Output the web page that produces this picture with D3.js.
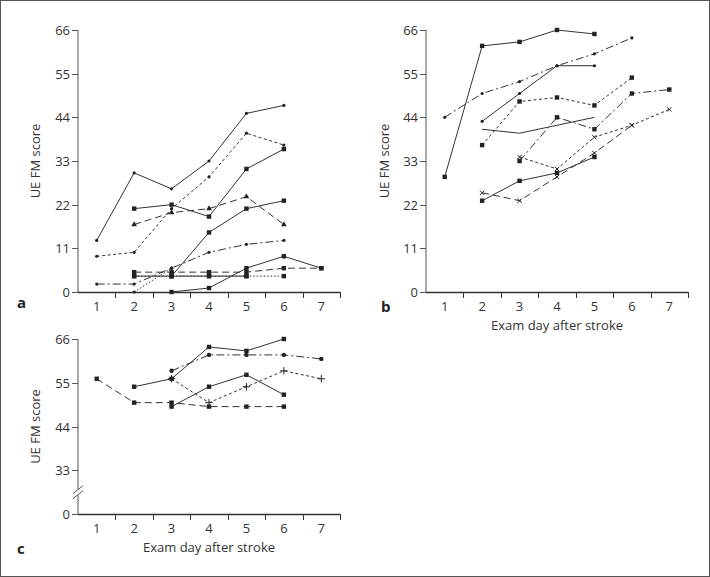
<!DOCTYPE html>
<html><head><meta charset="utf-8">
<script src="https://cdn.jsdelivr.net/npm/d3@7"></script>
<style>body{margin:0;background:#fff}svg{display:block}text{font-family:"Open Sans","Noto Sans",sans-serif;fill:#333}</style>
</head><body><svg id="c" width="710" height="577"></svg>
<script>
const days = [1,2,3,4,5,6,7];
const yTicksAB = [0,11,22,33,44,55,66];
const yTicksC = [0,33,44,55,66];
const yLabel = "UE FM score";
const xLabel = "Exam day after stroke";

// Panel a series (index = day-1), null = no exam
const a1 = [13,30,26,33,45,47,null];
const a2 = [9,10,21,29,40,37,null];
const a3 = [null,21,22,19,31,36,null];
const a4 = [null,null,4,15,21,23,null];
const a5 = [null,4,4,4,4,null,null];
const a6 = [null,4,4,4,4,4,null];
const a7 = [null,5,5,5,5,6,6];
const a8 = [null,null,0,1,6,9,6];
const a9 = [2,2,6,10,12,13,null];
const a10 = [null,17,20,21,24,17,null];
const a11 = [null,0,6,null,null,null,null];

// Panel b series
const b1 = [29,62,63,66,65,null,null];
const b2 = [44,50,53,57,60,64,null];
const b3 = [null,43,50,57,57,null,null];
const b4 = [null,37,48,49,47,54,null];
const b5 = [null,41,40,42,44,null,null];
const b6 = [null,null,33,44,41,50,51];
const b7 = [null,null,34,31,39,42,46];
const b8 = [null,23,28,30,34,null,null];
const b9 = [null,25,23,29,35,42,null];

// Panel c series
const c1 = [null,54,56,64,63,66,null];
const c2 = [null,null,58,62,62,62,61];
const c3 = [null,null,56,50,54,58,56];
const c4 = [null,null,49,54,57,52,null];
const c5 = [56,50,50,49,49,49,null];

const DASH = {solid:null, short:"3,2.5", long:"7,4", dashdot:"8,3,2,3", dotted:"1.5,2"};

const panels = [
  {name:"a", x0:78, x1:340, yTop:30, yBot:292, domain:[0,66], ticks:yTicksAB, xlabel:false,
   letter:[17,308], ylabX:40,
   series:[
    {d:a6,dash:"dotted",m:"square"},{d:a1,dash:"solid",m:"dot"},{d:a2,dash:"short",m:"dot"},
    {d:a3,dash:"solid",m:"square"},{d:a4,dash:"solid",m:"square"},{d:a5,dash:"solid",m:"square"},
    {d:a7,dash:"long",m:"square"},{d:a8,dash:"solid",m:"square"},{d:a9,dash:"dashdot",m:"dot"},
    {d:a10,dash:"long",m:"tri"},{d:a11,dash:"dotted",m:"dot"}]},
  {name:"b", x0:426, x1:688, yTop:30, yBot:292, domain:[0,66], ticks:yTicksAB, xlabel:true,
   letter:[381,312], ylabX:389,
   series:[
    {d:b1,dash:"solid",m:"square"},{d:b2,dash:"dashdot",m:"dot"},{d:b3,dash:"solid",m:"dot"},
    {d:b4,dash:"short",m:"square"},{d:b5,dash:"solid",m:null},{d:b6,dash:"dashdot",m:"square"},
    {d:b7,dash:"short",m:"star"},{d:b8,dash:"solid",m:"square"},{d:b9,dash:"long",m:"star"}]},
  {name:"c", x0:78, x1:340, yTop:339, yBot:514, domain:[22,66], ticks:yTicksC, xlabel:true, brk:true,
   letter:[17,554], ylabX:40,
   series:[
    {d:c1,dash:"solid",m:"square"},{d:c2,dash:"dashdot",m:"circle"},{d:c3,dash:"short",m:"plus"},
    {d:c4,dash:"solid",m:"square"},{d:c5,dash:"long",m:"square"}]}
];

const svg = d3.select("#c");
svg.append("rect").attr("x",0.5).attr("y",0.5).attr("width",709).attr("height",576)
  .attr("fill","none").attr("stroke","#555").attr("stroke-width",1);

const LC = "#333";
panels.forEach(p => {
  const x = d3.scaleBand().domain(days).range([p.x0,p.x1]);
  const y = d3.scaleLinear().domain(p.domain).range([p.yBot,p.yTop]);
  const g = svg.append("g");
  const tv = v => (p.brk && v===0) ? p.domain[0] : v;

  // y axis
  g.append("line").attr("x1",p.x0).attr("x2",p.x0).attr("y1",p.yTop).attr("y2",p.yBot)
    .attr("stroke","#555").attr("stroke-width",1);
  p.ticks.forEach(v => {
    const yy = Math.round(y(tv(v)))+0.5;
    g.append("line").attr("x1",p.x0-6).attr("x2",p.x0).attr("y1",yy).attr("y2",yy).attr("stroke","#555");
    g.append("text").attr("x",p.x0-8).attr("y",yy).attr("dy","0.35em").attr("text-anchor","end")
      .attr("font-size",13).text(v);
  });
  if (p.brk) {
    const yb = (y(22)+y(33))/2;
    g.append("rect").attr("x",p.x0-3).attr("y",yb-3).attr("width",6).attr("height",6).attr("fill","#fff");
    [-2.5,2.5].forEach(o => g.append("line").attr("x1",p.x0-5).attr("x2",p.x0+5)
      .attr("y1",yb+o+4).attr("y2",yb+o-4).attr("stroke","#555"));
  }
  // x axis
  g.append("line").attr("x1",p.x0).attr("x2",p.x1).attr("y1",p.yBot+0.5).attr("y2",p.yBot+0.5)
    .attr("stroke",LC).attr("stroke-width",1.3);
  days.forEach(d => {
    const xe = Math.round(x(d)+x.bandwidth())+0.5;
    g.append("line").attr("x1",xe).attr("x2",xe).attr("y1",p.yBot).attr("y2",p.yBot+6).attr("stroke",LC);
    g.append("text").attr("x",x(d)+x.bandwidth()/2).attr("y",p.yBot+19).attr("text-anchor","middle")
      .attr("font-size",13).text(d);
  });
  if (p.xlabel) g.append("text").attr("x",(p.x0+p.x1)/2).attr("y",p.yBot+38).attr("text-anchor","middle")
      .attr("font-size",13).text(xLabel);
  g.append("text").attr("transform",`translate(${p.ylabX},${(p.yTop+p.yBot)/2}) rotate(-90)`)
    .attr("text-anchor","middle").attr("font-size",13).text(yLabel);
  g.append("text").attr("x",p.letter[0]).attr("y",p.letter[1]).attr("font-size",15)
    .attr("font-weight","bold").style("fill","#222").text(p.name);

  const line = d3.line().defined(v => v[1]!==null)
    .x(v => x(v[0])+x.bandwidth()/2).y(v => y(v[1]));
  p.series.forEach(s => {
    const pts = days.map((d,i) => [d, s.d[i]]);
    g.append("path").attr("d",line(pts)).attr("fill","none").attr("stroke",LC).attr("stroke-width",1)
      .attr("stroke-dasharray",DASH[s.dash]);
    pts.filter(v => v[1]!==null).forEach(v => {
      const cx = x(v[0])+x.bandwidth()/2, cy = y(v[1]);
      if (s.m==="square") g.append("rect").attr("x",cx-2.2).attr("y",cy-2.2).attr("width",4.4).attr("height",4.4).attr("fill","#222");
      else if (s.m==="dot") g.append("circle").attr("cx",cx).attr("cy",cy).attr("r",1.6).attr("fill","#222");
      else if (s.m==="circle") g.append("circle").attr("cx",cx).attr("cy",cy).attr("r",2.2).attr("fill","#222");
      else if (s.m==="tri") g.append("path").attr("d",d3.symbol(d3.symbolTriangle,14)()).attr("transform",`translate(${cx},${cy})`).attr("fill","#222");
      else if (s.m==="star") g.append("path").attr("d",d3.symbol(d3.symbolTimes,14)()).attr("transform",`translate(${cx},${cy})`).attr("fill","none").attr("stroke","#222");
      else if (s.m==="plus") g.append("path").attr("d",d3.symbol(d3.symbolCross2 || d3.symbolPlus,20)()).attr("transform",`translate(${cx},${cy})`).attr("fill","none").attr("stroke","#222");
    });
  });
});
</script></body></html>
